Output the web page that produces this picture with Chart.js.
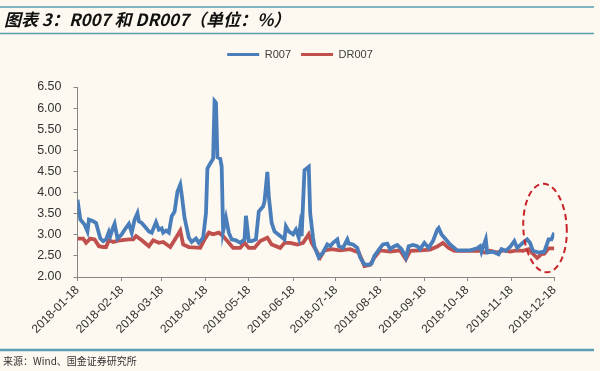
<!DOCTYPE html>
<html>
<head>
<meta charset="utf-8">
<script src="https://cdn.jsdelivr.net/npm/chart.js@4.4.1/dist/chart.umd.min.js"></script>
<style>
  html, body { margin: 0; padding: 0; background: #fdf9f0; }
  #wrap { width: 600px; height: 371px; }
</style>
</head>
<body>
<div id="wrap"><canvas id="rateChart" width="600" height="371"></canvas></div>
<script>
// days counted from 2018-01-18
var tickDays = [0, 31, 59, 90, 120, 151, 181, 212, 243, 273, 304, 334];
var tickLabels = ["2018-01-18", "2018-02-18", "2018-03-18", "2018-04-18", "2018-05-18", "2018-06-18",
                  "2018-07-18", "2018-08-18", "2018-09-18", "2018-10-18", "2018-11-18", "2018-12-18"];

var rDays = [0, 2, 5, 7, 8, 11, 13, 16, 18, 20, 22, 23, 25, 26, 28, 31, 33, 36, 38, 40, 42, 43, 45, 47, 50,
             52, 55, 57, 59, 60, 62, 64, 66, 68, 70, 72, 73, 75, 78, 80, 83, 85, 86, 88, 90, 91, 93, 95, 96,
             97, 98, 100, 101, 102, 104, 106, 108, 111, 114, 117, 118, 120, 122, 125, 127, 130, 131, 133,
             134, 136, 138, 142, 145, 146, 148, 151, 153, 155, 156, 157, 159, 162, 163, 165, 166, 169, 172,
             175, 177, 179, 182, 183, 186, 189, 190, 193, 196, 198, 201, 204, 206, 208, 212, 214, 217, 219,
             222, 224, 227, 230, 232, 235, 238, 240, 243, 246, 249, 252, 253, 255, 257, 261, 266, 270, 275,
             280, 282, 283, 286, 287, 291, 295, 297, 300, 303, 306, 308, 312, 315, 317, 319, 323, 327, 330,
             332, 334];
var r007 = [3.83, 3.36, 3.24, 3.08, 3.36, 3.32, 3.28, 2.91, 2.85, 2.89, 3.07, 2.97, 3.18, 3.26, 2.91, 3.01,
            3.12, 3.26, 3.05, 3.36, 3.51, 3.32, 3.28, 3.20, 3.08, 3.05, 3.30, 3.12, 3.15, 3.05, 3.10, 3.05,
            3.44, 3.55, 4.02, 4.19, 3.95, 3.40, 2.93, 2.83, 2.91, 2.81, 2.85, 2.93, 3.51, 4.57, 4.69, 4.80,
            6.17, 6.13, 4.84, 4.80, 4.61, 3.08, 3.40, 3.05, 2.89, 2.87, 2.81, 2.89, 3.45, 2.85, 2.85, 2.89,
            3.55, 3.67, 3.79, 4.49, 3.91, 3.28, 3.08, 2.97, 2.89, 3.20, 3.08, 3.01, 3.12, 2.93, 3.20, 2.97,
            4.53, 4.61, 3.51, 2.93, 2.72, 2.46, 2.58, 2.77, 2.73, 2.81, 2.89, 2.73, 2.69, 2.89, 2.79, 2.77,
            2.69, 2.46, 2.30, 2.29, 2.32, 2.50, 2.69, 2.77, 2.79, 2.66, 2.73, 2.76, 2.66, 2.46, 2.73, 2.76,
            2.73, 2.66, 2.81, 2.69, 2.85, 3.12, 3.16, 3.01, 2.93, 2.77, 2.63, 2.63, 2.63, 2.68, 2.73, 2.60,
            2.89, 2.58, 2.60, 2.54, 2.66, 2.62, 2.71, 2.85, 2.69, 2.81, 2.89, 2.81, 2.62, 2.58, 2.60, 2.89,
            2.89, 3.05];

var drDays = [0, 4, 6, 9, 12, 15, 18, 20, 22, 25, 30, 36, 39, 41, 45, 50, 53, 57, 60, 65, 69, 72, 74, 78,
              86, 89, 92, 95, 99, 102, 106, 109, 114, 117, 120, 124, 128, 133, 136, 142, 145, 149, 154, 158,
              162, 164, 168, 170, 173, 178, 184, 191, 197, 201, 205, 208, 212, 219, 226, 230, 233, 240, 247,
              252, 256, 260, 264, 275, 282, 285, 289, 294, 298, 303, 308, 312, 316, 319, 322, 325, 327, 330,
              334];
var dr007 = [2.91, 2.91, 2.81, 2.91, 2.89, 2.73, 2.71, 2.71, 2.87, 2.83, 2.87, 2.89, 2.89, 2.97, 2.87, 2.73,
             2.87, 2.81, 2.83, 2.71, 2.93, 3.10, 2.77, 2.71, 2.69, 2.89, 3.05, 3.01, 3.05, 2.97, 2.81, 2.69,
             2.69, 2.81, 2.69, 2.69, 2.85, 2.93, 2.77, 2.69, 2.81, 2.81, 2.77, 2.81, 3.01, 2.81, 2.58, 2.46,
             2.63, 2.66, 2.63, 2.66, 2.58, 2.26, 2.29, 2.46, 2.63, 2.60, 2.63, 2.42, 2.62, 2.63, 2.65, 2.72,
             2.81, 2.69, 2.62, 2.62, 2.62, 2.58, 2.62, 2.58, 2.63, 2.60, 2.63, 2.62, 2.66, 2.55, 2.45, 2.54,
             2.55, 2.68, 2.68];

function toPoints(days, vals) {
    return days.map(function (d, i) { return { x: d, y: vals[i] }; });
}

var axisGrey = '#868686';
var teal = '#5a9fb3';

// extra room between legend and plot
var legendGap = {
    id: 'legendGap',
    beforeInit: function (chart) {
        var origFit = chart.legend.fit;
        chart.legend.fit = function () {
            origFit.bind(chart.legend)();
            this.height += 17;
        };
    }
};

var decor = {
    id: 'decor',
    afterDraw: function (chart) {
        var ctx = chart.ctx;
        ctx.save();
        // rules
        ctx.strokeStyle = teal;
        ctx.lineWidth = 1.5;
        ctx.beginPath();
        ctx.moveTo(0, 7); ctx.lineTo(594, 7);
        ctx.moveTo(0, 33.5); ctx.lineTo(594, 33.5);
        ctx.stroke();
        ctx.lineWidth = 2.5;
        ctx.beginPath();
        ctx.moveTo(0, 350); ctx.lineTo(594, 350);
        ctx.stroke();
        // title
        ctx.fillStyle = '#111111';
        ctx.font = 'italic bold 17px "Noto Sans CJK SC", sans-serif';
        ctx.textBaseline = 'middle';
        ctx.textAlign = 'left';
        ctx.fillText('图表 3：R007 和 DR007（单位：%）', 4, 20);
        // source
        ctx.fillStyle = '#333333';
        ctx.font = '10px "Noto Sans CJK SC", sans-serif';
        ctx.fillText('来源：Wind、国金证券研究所', 3, 361);
        // dashed ellipse round the latest values
        var xs = chart.scales.x, ys = chart.scales.y;
        var cx = xs.getPixelForValue(327.5), cy = ys.getPixelForValue(3.16);
        var rx = xs.getPixelForValue(327.5 + 15.2) - cx;
        var ry = ys.getPixelForValue(2) - ys.getPixelForValue(3.05);
        ctx.strokeStyle = '#c8252a';
        ctx.lineWidth = 2;
        ctx.setLineDash([6, 4]);
        ctx.beginPath();
        ctx.ellipse(cx, cy, rx, ry, -0.05, 0, Math.PI * 2);
        ctx.stroke();
        ctx.restore();
    }
};

var ctx = document.getElementById('rateChart').getContext('2d');
var chart = new Chart(ctx, {
    type: 'line',
    data: {
        datasets: [{
            label: 'R007',
            data: toPoints(rDays, r007),
            borderColor: '#4a7ebb',
            backgroundColor: '#4a7ebb',
            borderWidth: 3.8,
            pointRadius: 0,
            tension: 0
        },
        {
            label: 'DR007',
            data: toPoints(drDays, dr007),
            borderColor: '#c0504d',
            backgroundColor: '#c0504d',
            borderWidth: 3.8,
            pointRadius: 0,
            tension: 0
        }]
    },
    options: {
        responsive: false,
        animation: false,
        layout: { padding: { left: 0, right: 0, top: 39, bottom: 32 } },
        plugins: {
            tooltip: { enabled: false },
            legend: {
                position: 'top',
                labels: {
                    boxWidth: 32,
                    boxHeight: 3,
                    padding: 10,
                    color: '#404040',
                    font: { family: 'Arial, "Liberation Sans", sans-serif', size: 11 },
                    generateLabels: function (c) {
                        var items = Chart.defaults.plugins.legend.labels.generateLabels(c);
                        items.forEach(function (it) { it.lineWidth = 0; });
                        return items;
                    }
                }
            }
        },
        scales: {
            x: {
                type: 'linear',
                min: 0,
                max: 334,
                afterFit: function (s) { s.height = 62; },
                afterBuildTicks: function (s) {
                    s.ticks = tickDays.map(function (d) { return { value: d }; });
                },
                ticks: {
                    autoSkip: false,
                    minRotation: 45,
                    maxRotation: 45,
                    padding: 2,
                    color: '#333333',
                    font: { family: 'Arial, "Liberation Sans", sans-serif', size: 12 },
                    callback: function (v, i) { return tickLabels[i]; }
                },
                grid: { drawOnChartArea: false, tickLength: 4, color: axisGrey },
                border: { color: axisGrey, width: 1 }
            },
            y: {
                min: 2,
                max: 6.5,
                afterFit: function (s) { s.width = 77.5; },
                ticks: {
                    stepSize: 0.5,
                    padding: 12,
                    color: '#333333',
                    font: { family: 'Arial, "Liberation Sans", sans-serif', size: 12.5 },
                    callback: function (v) { return v.toFixed(2); }
                },
                grid: { drawOnChartArea: false, tickLength: 4, color: axisGrey },
                border: { color: axisGrey, width: 1 }
            },
            // empty right margin so the legend stays centred on the page
            yRight: {
                position: 'right',
                afterFit: function (s) { s.width = 45.7; },
                ticks: { display: false },
                grid: { display: false },
                border: { display: false }
            }
        }
    },
    plugins: [legendGap, decor]
});
</script>
</body>
</html>
